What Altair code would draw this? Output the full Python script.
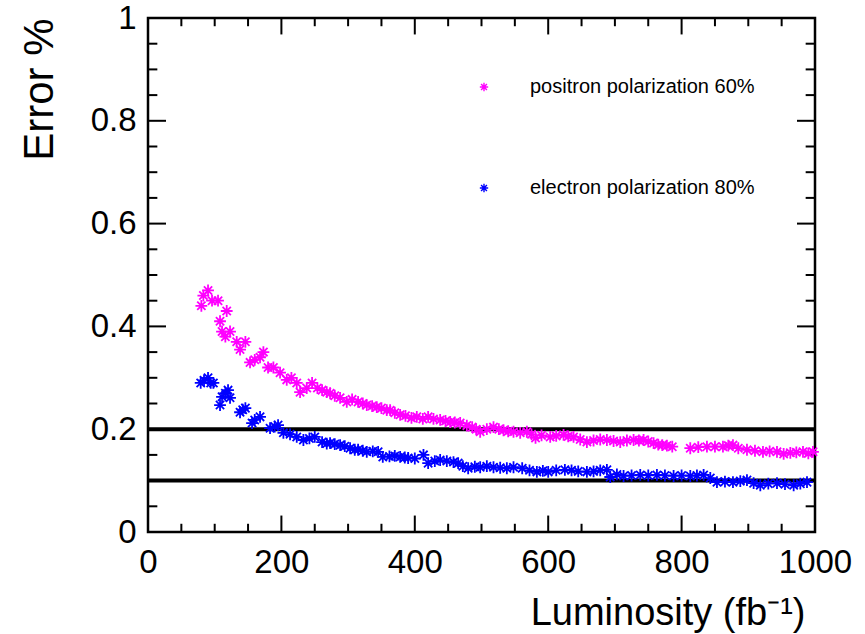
import altair as alt
import pandas as pd

# ---- data ----
pos_lumi = [80, 83, 90, 96, 105, 108, 111, 116, 118, 123, 133, 138, 146, 153, 160, 168, 173, 180, 188, 198,
            208, 215, 223, 228, 238, 246, 254, 261, 268, 273, 280, 288, 298, 306, 315, 322, 328, 336, 343, 350,
            358, 363, 370, 378, 386, 395, 403, 412, 420, 428, 438, 446, 453, 460, 468, 478, 486, 492, 498, 508,
            518, 526, 533, 540, 548, 558, 568, 575, 581, 590, 603, 612, 623, 630, 638, 648, 658, 668, 678, 688,
            698, 708, 718, 728, 736, 743, 750, 758, 765, 771, 778, 786, 813, 825, 838, 850, 862, 870, 877, 885,
            898, 910, 922, 932, 943, 953, 963, 972, 982, 990, 997]
pos_err = [0.44, 0.46, 0.47, 0.45, 0.45, 0.41, 0.39, 0.38, 0.43, 0.39, 0.37, 0.355, 0.37, 0.33, 0.335, 0.34, 0.35, 0.32, 0.32, 0.31,
           0.296, 0.30, 0.29, 0.272, 0.28, 0.29, 0.28, 0.276, 0.272, 0.27, 0.265, 0.261, 0.253, 0.258, 0.253, 0.25, 0.247, 0.245, 0.243, 0.241,
           0.237, 0.237, 0.232, 0.228, 0.226, 0.222, 0.224, 0.22, 0.224, 0.22, 0.218, 0.216, 0.214, 0.213, 0.212, 0.207, 0.204, 0.20, 0.195, 0.20,
           0.204, 0.20, 0.198, 0.196, 0.195, 0.193, 0.195, 0.19, 0.183, 0.188, 0.185, 0.187, 0.189, 0.186, 0.185, 0.18, 0.175, 0.178, 0.18, 0.179,
           0.177, 0.175, 0.178, 0.179, 0.178, 0.179, 0.176, 0.173, 0.17, 0.169, 0.168, 0.166, 0.163, 0.165, 0.166, 0.166, 0.166, 0.168, 0.169, 0.163,
           0.16, 0.158, 0.156, 0.157, 0.156, 0.152, 0.154, 0.155, 0.156, 0.153, 0.156]

ele_lumi = [79, 84, 90, 94, 98, 108, 111, 116, 120, 123, 138, 142, 146, 156, 160, 168, 183, 190, 195, 203,
            213, 223, 233, 242, 250, 261, 268, 273, 280, 288, 295, 303, 310, 315, 322, 328, 337, 345, 352, 362,
            370, 378, 385, 390, 400, 413, 420, 430, 438, 448, 458, 465, 472, 480, 490, 498, 508, 518, 528, 538,
            548, 561, 572, 583, 592, 600, 612, 625, 635, 645, 658, 668, 678, 688, 693, 703, 713, 725, 738, 750,
            763, 775, 788, 800, 813, 823, 833, 843, 853, 865, 877, 888, 898, 908, 918, 930, 943, 955, 968, 978, 988]
ele_err = [0.29, 0.295, 0.30, 0.29, 0.29, 0.247, 0.263, 0.27, 0.276, 0.261, 0.233, 0.238, 0.241, 0.212, 0.218, 0.224, 0.202, 0.205, 0.208, 0.193,
           0.19, 0.185, 0.179, 0.182, 0.185, 0.175, 0.172, 0.173, 0.171, 0.169, 0.167, 0.163, 0.16, 0.16, 0.158, 0.156, 0.157, 0.156, 0.146, 0.147,
           0.148, 0.146, 0.145, 0.144, 0.143, 0.15, 0.134, 0.138, 0.14, 0.138, 0.136, 0.134, 0.128, 0.124, 0.127, 0.126, 0.128, 0.126, 0.125, 0.124,
           0.126, 0.124, 0.12, 0.117, 0.119, 0.117, 0.12, 0.121, 0.12, 0.118, 0.117, 0.118, 0.12, 0.121, 0.107, 0.112, 0.109, 0.11, 0.111, 0.11,
           0.111, 0.11, 0.109, 0.11, 0.109, 0.11, 0.111, 0.105, 0.097, 0.098, 0.097, 0.099, 0.101, 0.095, 0.091, 0.094, 0.095, 0.093, 0.091, 0.094, 0.097]

series_names = ["positron polarization 60%", "electron polarization 80%"]
series_colors = ["#ff00ff", "#0000ff"]
threshold_lines = [0.2, 0.1]

x_major = [0, 200, 400, 600, 800, 1000]
x_minor = [v for v in range(0, 1001, 50) if v % 200 != 0]
y_major = [0, 0.2, 0.4, 0.6, 0.8, 1.0]
y_minor = [round(v * 0.05, 2) for v in range(21) if v % 4 != 0]

W, H = 667, 514
STAR = "M0,-1L0,1M-1,0L1,0M-0.7,-0.7L0.7,0.7M-0.7,0.7L0.7,-0.7"
FONT = "Liberation Sans"

df = pd.concat([
    pd.DataFrame({"lumi": pos_lumi, "err": pos_err, "series": series_names[0]}),
    pd.DataFrame({"lumi": ele_lumi, "err": ele_err, "series": series_names[1]}),
])

xscale = alt.Scale(domain=[0, 1000], nice=False)
yscale = alt.Scale(domain=[0, 1], nice=False)

points = alt.Chart(df).mark_point(shape=STAR, filled=False, size=140, strokeWidth=1.8, opacity=1).encode(
    x=alt.X("lumi:Q", scale=xscale,
            axis=alt.Axis(values=x_major, format="d", tickSize=0, ticks=False, domain=False, grid=False,
                          labelFlush=False, labelOverlap=False,
                          labelFontSize=33, labelFont=FONT, labelColor="black", labelPadding=14,
                          title="Luminosity (fb⁻¹)", titleFont=FONT, titleFontSize=38, titleFontWeight="normal",
                          titleColor="black", titleAnchor="end", titleAlign="right", titleBaseline="alphabetic",
                          titleX=W - 10, titleY=92)),
    y=alt.Y("err:Q", scale=yscale,
            axis=alt.Axis(values=y_major, format="~g", tickSize=0, ticks=False, domain=False, grid=False,
                          labelFlush=False, labelOverlap=False,
                          labelFontSize=33, labelFont=FONT, labelColor="black", labelPadding=12,
                          title="Error %", titleFont=FONT, titleFontSize=42, titleFontWeight="normal",
                          titleColor="black", titleAngle=270, titleAlign="right", titleBaseline="alphabetic",
                          titleAnchor="end", titleX=-96, titleY=0)),
    color=alt.Color("series:N", scale=alt.Scale(domain=series_names, range=series_colors),
                    sort=series_names,
                    legend=alt.Legend(title=None, orient="none", legendX=326, legendY=59, padding=0,
                                      symbolType=STAR, symbolSize=70, symbolStrokeWidth=1.4,
                                      labelFontSize=20, labelFont=FONT, labelColor="black", labelLimit=500,
                                      labelOffset=36, rowPadding=81)),
)

hlines = alt.Chart(pd.DataFrame({"y": threshold_lines})).mark_rule(color="black", strokeWidth=4).encode(
    y=alt.Y("y:Q", scale=yscale)
)

# inward frame ticks, lengths expressed in data units of the opposite axis
def xticks(vals, frac):
    d = pd.DataFrame({"v": vals})
    base = alt.Chart(d).mark_rule(color="black", strokeWidth=2)
    bottom = base.transform_calculate(a="0", b=str(frac)).encode(
        x=alt.X("v:Q", scale=xscale), y=alt.Y("a:Q", scale=yscale), y2="b:Q")
    top = base.transform_calculate(a="1", b=str(1 - frac)).encode(
        x=alt.X("v:Q", scale=xscale), y=alt.Y("a:Q", scale=yscale), y2="b:Q")
    return bottom + top

def yticks(vals, frac):
    d = pd.DataFrame({"v": vals})
    base = alt.Chart(d).mark_rule(color="black", strokeWidth=2)
    left = base.transform_calculate(a="0", b=str(frac)).encode(
        y=alt.Y("v:Q", scale=yscale), x=alt.X("a:Q", scale=xscale), x2="b:Q")
    right = base.transform_calculate(a="1000", b=str(1000 - frac)).encode(
        y=alt.Y("v:Q", scale=yscale), x=alt.X("a:Q", scale=xscale), x2="b:Q")
    return left + right

chart = alt.layer(
    xticks(x_major, 0.032), xticks(x_minor, 0.016), yticks(y_major, 27), yticks(y_minor, 14),
    hlines, points,
).properties(
    width=W, height=H,
    autosize=alt.AutoSizeParams(type="none"),
    padding={"left": 148, "top": 18, "right": 50, "bottom": 102},
    background="white",
).configure_view(stroke="black", strokeWidth=2.5)

chart.save("out.html", embed_options={"renderer": "svg", "actions": False})
